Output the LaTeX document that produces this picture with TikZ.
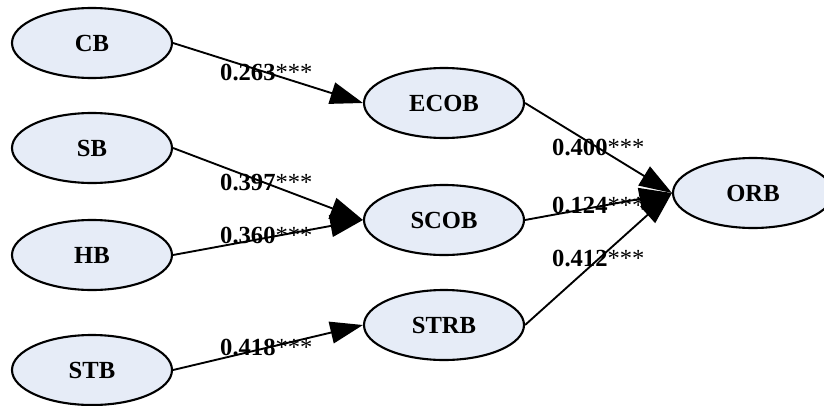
\documentclass[tikz,border=0pt]{standalone}
\usepackage{fontspec}
\setmainfont{Liberation Serif}
\usetikzlibrary{shapes.geometric,arrows.meta}
\definecolor{bulle}{RGB}{230,236,247}
\begin{document}
\begin{tikzpicture}[
ellip/.style={ellipse, draw=black, fill=bulle, line width=1.8pt, minimum width=4.8cm, minimum height=2.1cm, inner sep=0pt, font=\fontsize{21}{25}\selectfont\bfseries},
coef/.style={anchor=west, inner sep=0pt, font=\fontsize{21}{25}\selectfont},
fleche/.style={line width=1.6pt, -{Triangle[length=0.98cm, width=0.66cm]}},
]
    \useasboundingbox (-2.76,1.29) rectangle (21.96,-10.86);

    % Variables de gauche
    \node [ellip] (cb) {CB};
    \node [ellip, below of=cb, node distance=3.15cm] (sb) {SB};
    \node [ellip, below of=sb, node distance=3.21cm] (hb) {HB};
    \node [ellip, below of=hb, node distance=3.45cm] (stb) {STB};

    % Variables intermediaires
    \node [ellip, right of=cb, node distance=10.56cm, yshift=-1.8cm] (ecob) {ECOB};
    \node [ellip, below of=ecob, node distance=3.51cm] (scob) {SCOB};
    \node [ellip, below of=scob, node distance=3.15cm] (strb) {STRB};

    % Variable finale
    \node [ellip, right of=scob, node distance=9.27cm, yshift=0.81cm] (orb) {ORB};

    % Coefficients
    \node [coef] (c263) at (3.84,-0.87) {\textbf{0.263}***};
    \node [coef] (c397) at (3.84,-4.17) {\textbf{0.397}***};
    \node [coef] (c360) at (3.84,-5.76) {\textbf{0.360}***};
    \node [coef] (c418) at (3.84,-9.12) {\textbf{0.418}***};
    \node [coef] (c400) at (13.8,-3.12) {\textbf{0.400}***};
    \node [coef] (c124) at (13.8,-4.86) {\textbf{0.124}***};
    \node [coef] (c412) at (13.8,-6.45) {\textbf{0.412}***};

    % Liens
    \draw [fleche] (cb.east) -- (ecob.west);
    \draw [fleche] (sb.east) -- (scob.west);
    \draw [fleche] (hb.east) -- (scob.west);
    \draw [fleche] (stb.east) -- (strb.west);
    \draw [fleche] (ecob.east) -- (orb.west);
    \draw [fleche] (scob.east) -- (orb.west);
    \draw [fleche] (strb.east) -- (orb.west);
\end{tikzpicture}
\end{document}
